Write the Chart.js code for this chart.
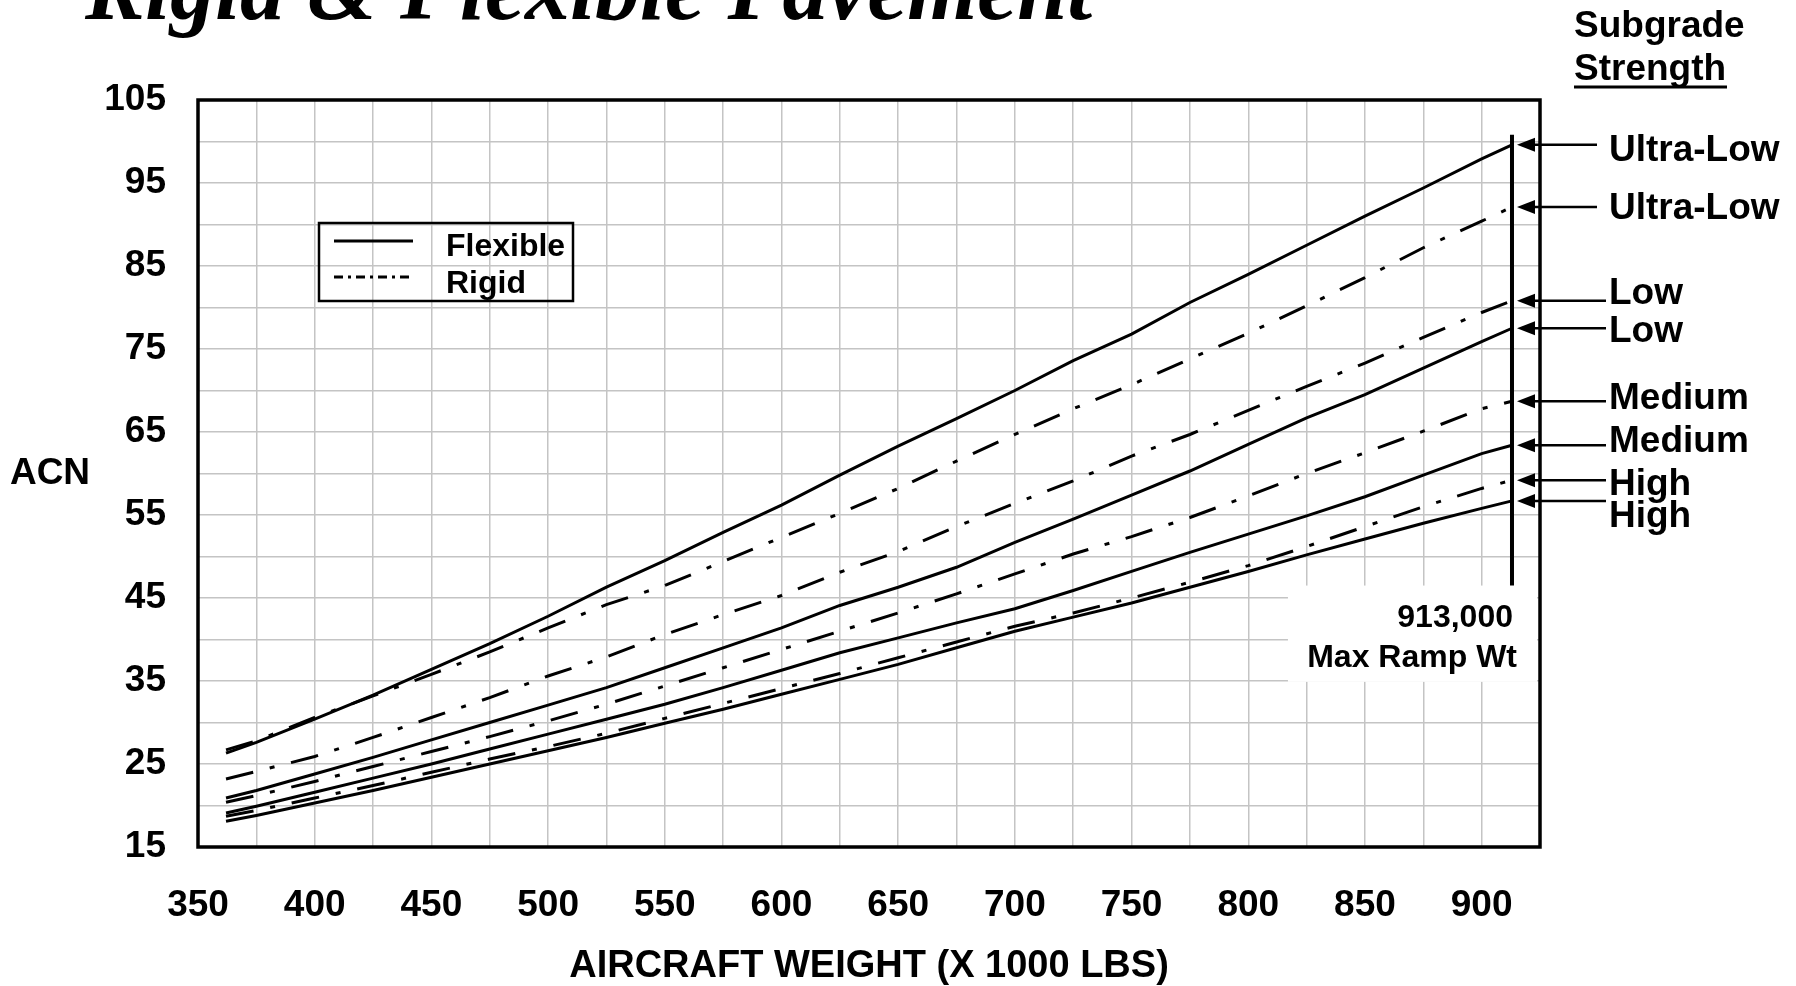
<!DOCTYPE html>
<html lang="en">
<head>
  <meta charset="UTF-8">
  <title>ACN - Rigid &amp; Flexible Pavement</title>
  <script src="https://cdn.jsdelivr.net/npm/chart.js"></script>
  <style>
    html, body { margin: 0; padding: 0; background: #fff; }
    #wrap { width: 1796px; height: 986px; }
  </style>
</head>
<body>

<div id="wrap">
  <canvas id="chartAcn" width="1796" height="986"></canvas>
</div>

<script>
  // === Data (weight in 1000 lbs -> ACN) ===
  const weights = [362, 375, 400, 425, 450, 475, 500, 525, 550, 575, 600, 625,
                   650, 675, 700, 725, 750, 775, 800, 825, 850, 875, 900, 913];

  const flexUltraLow  = [26.3, 27.6, 30.4, 33.3, 36.4, 39.5, 42.8, 46.3, 49.5, 52.9, 56.2, 59.8,
                         63.3, 66.6, 70.0, 73.6, 76.8, 80.6, 84.0, 87.5, 91.0, 94.4, 97.9, 99.6];
  const rigidUltraLow = [26.7, 27.8, 30.6, 33.2, 35.8, 38.5, 41.4, 44.2, 46.5, 49.4, 52.3, 55.2,
                         58.2, 61.5, 64.7, 67.8, 70.7, 73.8, 76.9, 80.2, 83.6, 87.2, 90.4, 92.1];
  const rigidLow      = [23.2, 24.1, 25.9, 28.2, 30.6, 33.0, 35.6, 37.9, 40.6, 43.0, 45.3, 48.1,
                         50.6, 53.6, 56.4, 59.1, 62.1, 64.7, 67.6, 70.5, 73.3, 76.4, 79.4, 80.8];
  const flexLow       = [20.9, 21.8, 23.8, 25.8, 27.9, 30.0, 32.1, 34.2, 36.6, 39.0, 41.4, 44.1,
                         46.3, 48.7, 51.7, 54.5, 57.4, 60.3, 63.5, 66.7, 69.5, 72.7, 75.9, 77.5];
  const rigidMedium   = [20.4, 21.2, 22.9, 24.7, 26.5, 28.3, 30.2, 32.2, 34.4, 36.6, 38.8, 41.0,
                         43.2, 45.5, 47.9, 50.3, 52.4, 54.7, 57.3, 60.0, 62.5, 65.1, 67.8, 68.7];
  const flexMedium    = [19.1, 19.9, 21.6, 23.3, 25.0, 26.8, 28.6, 30.4, 32.2, 34.2, 36.3, 38.4,
                         40.2, 42.0, 43.7, 45.9, 48.2, 50.5, 52.7, 54.9, 57.2, 59.8, 62.4, 63.4];
  const rigidHigh     = [18.7, 19.4, 20.9, 22.4, 24.0, 25.6, 27.1, 28.7, 30.5, 32.3, 34.1, 35.9,
                         37.8, 39.7, 41.6, 43.2, 45.0, 46.9, 48.9, 51.2, 53.6, 56.0, 58.2, 59.2];
  const flexHigh      = [18.1, 18.8, 20.3, 21.8, 23.4, 25.0, 26.6, 28.2, 29.9, 31.6, 33.4, 35.2,
                         37.0, 39.0, 41.0, 42.7, 44.4, 46.3, 48.2, 50.2, 52.1, 54.0, 55.8, 56.7];

  // series order = order of the labels on the right (top to bottom)
  const seriesValues = [flexUltraLow, rigidUltraLow, rigidLow, flexLow, rigidMedium, flexMedium, rigidHigh, flexHigh];
  const seriesRigid  = [false, true, true, false, true, false, true, false];
  const strengthLabels = ["Ultra-Low", "Ultra-Low", "Low", "Low", "Medium", "Medium", "High", "High"];

  const legendLabels = ["Flexible", "Rigid"];
  const maxRampWeight = 913;
  const maxRampText = ["913,000", "Max Ramp Wt"];

  const xTicks = { min: 350, max: 925, step: 25, labelEvery: 50, lastLabel: 900 };
  const yTicks = { min: 15, max: 105, step: 5, labelEvery: 10 };

  // === Styles ===
  const SANS = '"Liberation Sans", Arial, sans-serif';
  const RIGID_DASH = [28, 17, 5, 17];
  const GRID = "#c4c4c4";

  const datasets = seriesValues.map((vals, i) => ({
    label: (seriesRigid[i] ? "Rigid " : "Flexible ") + strengthLabels[i],
    data: weights.map((w, k) => ({ x: w, y: vals[k] })),
    borderColor: "#000",
    borderWidth: 3,
    borderDash: seriesRigid[i] ? RIGID_DASH : [],
    borderCapStyle: "butt",
    pointRadius: 0,
    tension: 0,
    fill: false
  }));

  // === Decorations: frame, legend, titles, arrows ===
  const decor = {
    id: "decor",
    beforeDraw(chart) {
      const c = chart.ctx;
      c.save();
      c.fillStyle = "#fff";
      c.fillRect(0, 0, chart.width, chart.height);
      c.restore();
    },
    beforeDatasetsDraw(chart) {
      const c = chart.ctx, x = chart.scales.x, y = chart.scales.y, a = chart.chartArea;
      // white box behind the max ramp text
      const top = y.getPixelForValue(46.5), bot = y.getPixelForValue(34.9);
      const left = x.getPixelForValue(817);
      c.save();
      c.fillStyle = "#fff";
      c.fillRect(left, top, a.right - 3 - left, bot - top);
      c.restore();
    },
    afterDraw(chart) {
      const c = chart.ctx, x = chart.scales.x, y = chart.scales.y, a = chart.chartArea;
      c.save();

      // frame
      c.strokeStyle = "#000";
      c.lineWidth = 3.5;
      c.strokeRect(a.left, a.top, a.right - a.left, a.bottom - a.top);

      // max ramp weight line
      const xr = x.getPixelForValue(maxRampWeight);
      c.lineWidth = 4;
      c.beginPath();
      c.moveTo(xr, y.getPixelForValue(100.8));
      c.lineTo(xr, y.getPixelForValue(46.5));
      c.stroke();

      c.fillStyle = "#000";
      c.textAlign = "right";
      c.textBaseline = "alphabetic";
      c.font = "bold 32px " + SANS;
      c.fillText(maxRampText[0], xr + 1, 627);
      c.fillText(maxRampText[1], xr + 5, 667);

      // arrows + strength labels
      const labelBase = [161, 219, 304, 342, 409, 452, 495, 527];
      const shaftEnd  = [1597, 1597, 1606, 1606, 1606, 1606, 1606, 1606];
      c.textAlign = "left";
      c.font = "bold 37px " + SANS;
      seriesValues.forEach((vals, i) => {
        const yy = y.getPixelForValue(vals[vals.length - 1]);
        const tip = xr + 5;
        c.beginPath();
        c.moveTo(tip, yy);
        c.lineTo(tip + 18, yy - 7);
        c.lineTo(tip + 18, yy + 7);
        c.closePath();
        c.fill();
        c.lineWidth = 2.5;
        c.beginPath();
        c.moveTo(tip + 12, yy);
        c.lineTo(shaftEnd[i], yy);
        c.stroke();
        c.fillText(strengthLabels[i], 1609, labelBase[i]);
      });

      // legend box
      c.lineWidth = 2.5;
      c.strokeRect(319, 223, 254, 78);
      c.lineWidth = 3;
      c.beginPath();
      c.moveTo(334, 241); c.lineTo(413, 241);
      c.stroke();
      c.setLineDash([9, 5, 3, 5]);
      c.beginPath();
      c.moveTo(334, 277); c.lineTo(413, 277);
      c.stroke();
      c.setLineDash([]);
      c.font = "bold 32px " + SANS;
      c.fillText(legendLabels[0], 446, 256);
      c.fillText(legendLabels[1], 446, 293);

      // header texts
      c.font = "italic bold 90px \"Liberation Serif\", \"Times New Roman\", serif";
      c.fillText("Rigid & Flexible Pavement", 85, 19);

      c.font = "bold 37px " + SANS;
      c.fillText("Subgrade", 1574, 37);
      c.fillText("Strength", 1574, 80);
      c.lineWidth = 3;
      c.beginPath();
      c.moveTo(1574, 87); c.lineTo(1727, 87);
      c.stroke();

      // y axis title (horizontal)
      c.textAlign = "center";
      c.textBaseline = "middle";
      c.fillText("ACN", 50, 474);

      c.restore();
    }
  };

  new Chart(document.getElementById("chartAcn"), {
    type: "line",
    data: { datasets },
    options: {
      responsive: false,
      animation: false,
      events: [],
      layout: { padding: { top: 100, right: 256, left: 0, bottom: 0 } },
      plugins: {
        legend: { display: false },
        tooltip: { enabled: false }
      },
      scales: {
        x: {
          type: "linear",
          min: xTicks.min,
          max: xTicks.max,
          afterFit: s => { s.height = 139; },
          border: { display: false },
          grid: { color: GRID, lineWidth: 1.5, drawTicks: false },
          ticks: {
            stepSize: xTicks.step,
            autoSkip: false,
            maxRotation: 0,
            padding: 37,
            color: "#000",
            font: { family: SANS, size: 37, weight: "bold" },
            callback: v => (v % xTicks.labelEvery === 0 && v <= xTicks.lastLabel) ? v : ""
          },
          title: {
            display: true,
            text: "AIRCRAFT WEIGHT (X 1000 LBS)",
            color: "#000",
            font: { family: SANS, size: 38, weight: "bold", lineHeight: 1.0 },
            padding: { top: 0, bottom: 0 }
          }
        },
        y: {
          min: yTicks.min,
          max: yTicks.max,
          afterFit: s => { s.width = 198; },
          border: { display: false },
          grid: { color: GRID, lineWidth: 1.5, drawTicks: false },
          ticks: {
            stepSize: yTicks.step,
            autoSkip: false,
            padding: 32,
            color: "#000",
            font: { family: SANS, size: 37, weight: "bold" },
            callback: v => ((v - yTicks.min) % yTicks.labelEvery === 0) ? v : ""
          }
        }
      }
    },
    plugins: [decor]
  });
</script>

</body>
</html>
